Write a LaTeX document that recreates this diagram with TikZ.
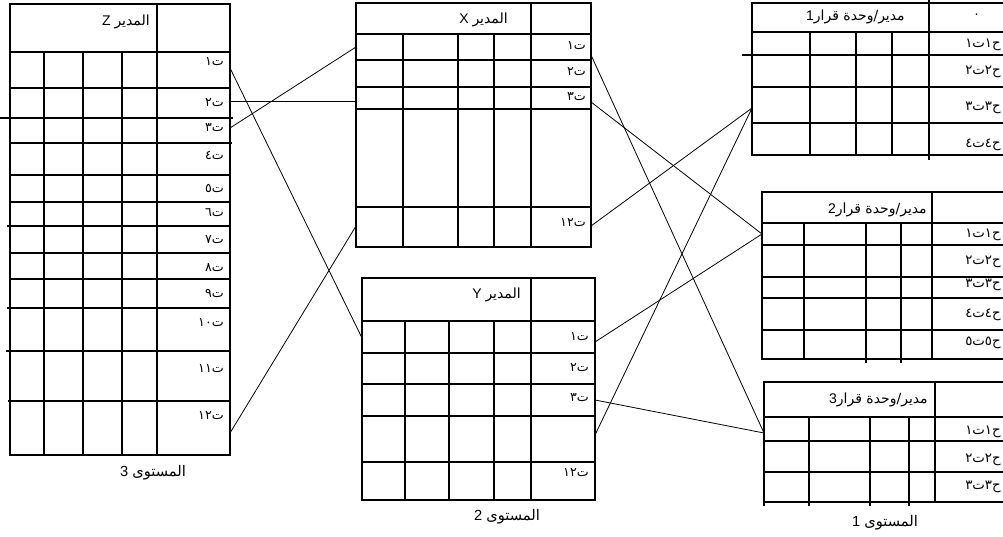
\documentclass[tikz,border=0pt]{standalone}
\usepackage{fontspec}
\setmainfont{Liberation Sans}
\newfontfamily\ar[Script=Arabic]{DejaVu Sans}
\TeXXeTstate=1
\begin{document}
\begin{tikzpicture}[x=0.75pt,y=-0.75pt,
  grid/.style={line width=0.85pt},
  link/.style={line width=0.6pt},
  lbl/.style={anchor=east,inner sep=0pt,font=\ar\fontsize{9.5}{11}\selectfont},
  rlbl/.style={anchor=east,inner sep=0pt,font=\ar\fontsize{10}{12}\selectfont},
  hdr/.style={anchor=east,inner sep=0pt,font=\fontsize{10.5}{12}\selectfont},
  lvl/.style={inner sep=0pt,font=\fontsize{11}{13}\selectfont}]
\useasboundingbox (0,0) rectangle (1003,536);

% ---------- manager Z (level 3) ----------
\draw[grid] (10,4) rectangle (230,455);
\draw[grid] (157,4) -- (157,455);
\draw[grid] (10,52) -- (230,52);
\foreach \y/\a/\b in {88/10/230,118/0/233,143/10/232,175/10/230,202/10/230,
  226/7/230,253/10/230,279/10/230,308/7/230,351/6/230,401/8/230}
  \draw[grid] (\a,\y) -- (\b,\y);
\foreach \x in {44,83,122} \draw[grid] (\x,52) -- (\x,455);
\node[hdr] (zh) at (150,22) {Z {\ar المدير}};
\foreach \n/\y/\t in {z1/62/ت١,z2/103/ت٢,z3/128/ت٣,z4/155/ت٤,z5/188/ت٥,z6/213/ت٦,
  z7/240/ت٧,z8/268/ت٨,z9/294/ت٩,z10/323/ت١٠,z11/369/ت١١,z12/416/ت١٢}
  \node[lbl] (\n) at (224,\y) {\t};
\node[lvl] (lv3) at (153,473) {3 {\ar المستوى}};

% ---------- manager X (level 2) ----------
\draw[grid] (356,3) rectangle (591,247);
\draw[grid] (531,3) -- (531,247);
\foreach \y in {34,60,87,109,207} \draw[grid] (356,\y) -- (591,\y);
\foreach \x in {403,458,494} \draw[grid] (\x,34) -- (\x,247);
\node[hdr] (xh) at (508,20) {X {\ar المدير}};
\foreach \n/\y/\t in {x1/46/ت١,x2/72/ت٢,x3/97/ت٣,x12/223/ت١٢}
  \node[lbl] (\n) at (586,\y) {\t};

% ---------- manager Y (level 2) ----------
\draw[grid] (362,278) rectangle (595,500);
\draw[grid] (531,278) -- (531,500);
\foreach \y in {321,353,384,416,462} \draw[grid] (362,\y) -- (595,\y);
\foreach \x in {405,449,494} \draw[grid] (\x,321) -- (\x,500);
\node[hdr] (yh) at (521,295) {Y {\ar المدير}};
\foreach \n/\y/\t in {y1/337/ت١,y2/368/ت٢,y3/398/ت٣,y12/473/ت١٢}
  \node[lbl] (\n) at (589,\y) {\t};
\node[lvl] (lv2) at (507,517) {2 {\ar المستوى}};

% ---------- decision unit 1 (level 1) ----------
\draw[grid] (1003,3) -- (752,3) -- (752,155) -- (1003,155);
\draw[grid] (929,0) -- (929,160);
\foreach \y/\a in {32/752,55/742,87/752,123/752} \draw[grid] (\a,\y) -- (1003,\y);
\foreach \x in {810,856,892} \draw[grid] (\x,32) -- (\x,155);
\node[hdr] (r1h) at (905,17) {1{\ar\beginR مدير/وحدة قرار\endR}};
\node[lbl] (r1dot) at (979,15) {.};
\foreach \n/\y/\t in {a1/45/ح١ت١,a2/72/ح٢ت٢,a3/108/ح٣ت٣,a4/145/ح٤ت٤}
  \node[rlbl] (\n) at (1001,\y) {\t};

% ---------- decision unit 2 (level 1) ----------
\draw[grid] (1003,192) -- (762,192) -- (762,359) -- (1003,359);
\draw[grid] (932,192) -- (932,359);
\foreach \y in {223,245,277,298,330} \draw[grid] (762,\y) -- (1003,\y);
\draw[grid] (804,223) -- (804,359);
\draw[grid] (866,223) -- (866,363);
\draw[grid] (901,223) -- (901,363);
\node[hdr] (r2h) at (927,210) {2{\ar\beginR مدير/وحدة قرار\endR}};
\foreach \n/\y/\t in {b1/235/ح١ت١,b2/262/ح٢ت٢,b3/285/ح٣ت٣,b4/315/ح٤ت٤,b5/343/ح٥ت٥}
  \node[rlbl] (\n) at (1001,\y) {\t};

% ---------- decision unit 3 (level 1) ----------
\draw[grid] (1003,382) -- (764,382) -- (764,506);
\draw[grid] (935,382) -- (935,502);
\foreach \y in {417,441,472,502} \draw[grid] (764,\y) -- (1003,\y);
\foreach \x in {809,870,909} \draw[grid] (\x,417) -- (\x,506);
\node[hdr] (r3h) at (928,400) {3{\ar\beginR مدير/وحدة قرار\endR}};
\foreach \n/\y/\t in {c1/432/ح١ت١,c2/460/ح٢ت٢,c3/487/ح٣ت٣}
  \node[rlbl] (\n) at (1001,\y) {\t};
\node[lvl] (lv1) at (885,523) {1 {\ar المستوى}};

% ---------- connection points on the table edges ----------
\coordinate (Zo1) at (230,68);
\coordinate (Zo2) at (230,101);
\coordinate (Zo3) at (230,128);
\coordinate (Zo12) at (230,433);
\coordinate (Xi1) at (356,47);
\coordinate (Xi2) at (356,101);
\coordinate (Xi12) at (356,226);
\coordinate (Yi1) at (362,338);
\coordinate (Xo1) at (591,55);
\coordinate (Xo3) at (591,102);
\coordinate (Xo12) at (591,226);
\coordinate (Yo1) at (595,342);
\coordinate (Yo3) at (595,400);
\coordinate (Yo4) at (595,435);
\coordinate (A) at (752,108);
\coordinate (B) at (762,234);
\coordinate (C) at (764,433);

% ---------- links between levels ----------
\draw[link] (Zo1) -- (Yi1);
\draw[link] (Zo2) -- (Xi2);
\draw[link] (Zo3) -- (Xi1);
\draw[link] (Zo12) -- (Xi12);
\draw[link] (Xo1) -- (C);
\draw[link] (Xo3) -- (B);
\draw[link] (Xo12) -- (A);
\draw[link] (Yo1) -- (B);
\draw[link] (Yo3) -- (C);
\draw[link] (Yo4) -- (A);
\end{tikzpicture}
\end{document}
